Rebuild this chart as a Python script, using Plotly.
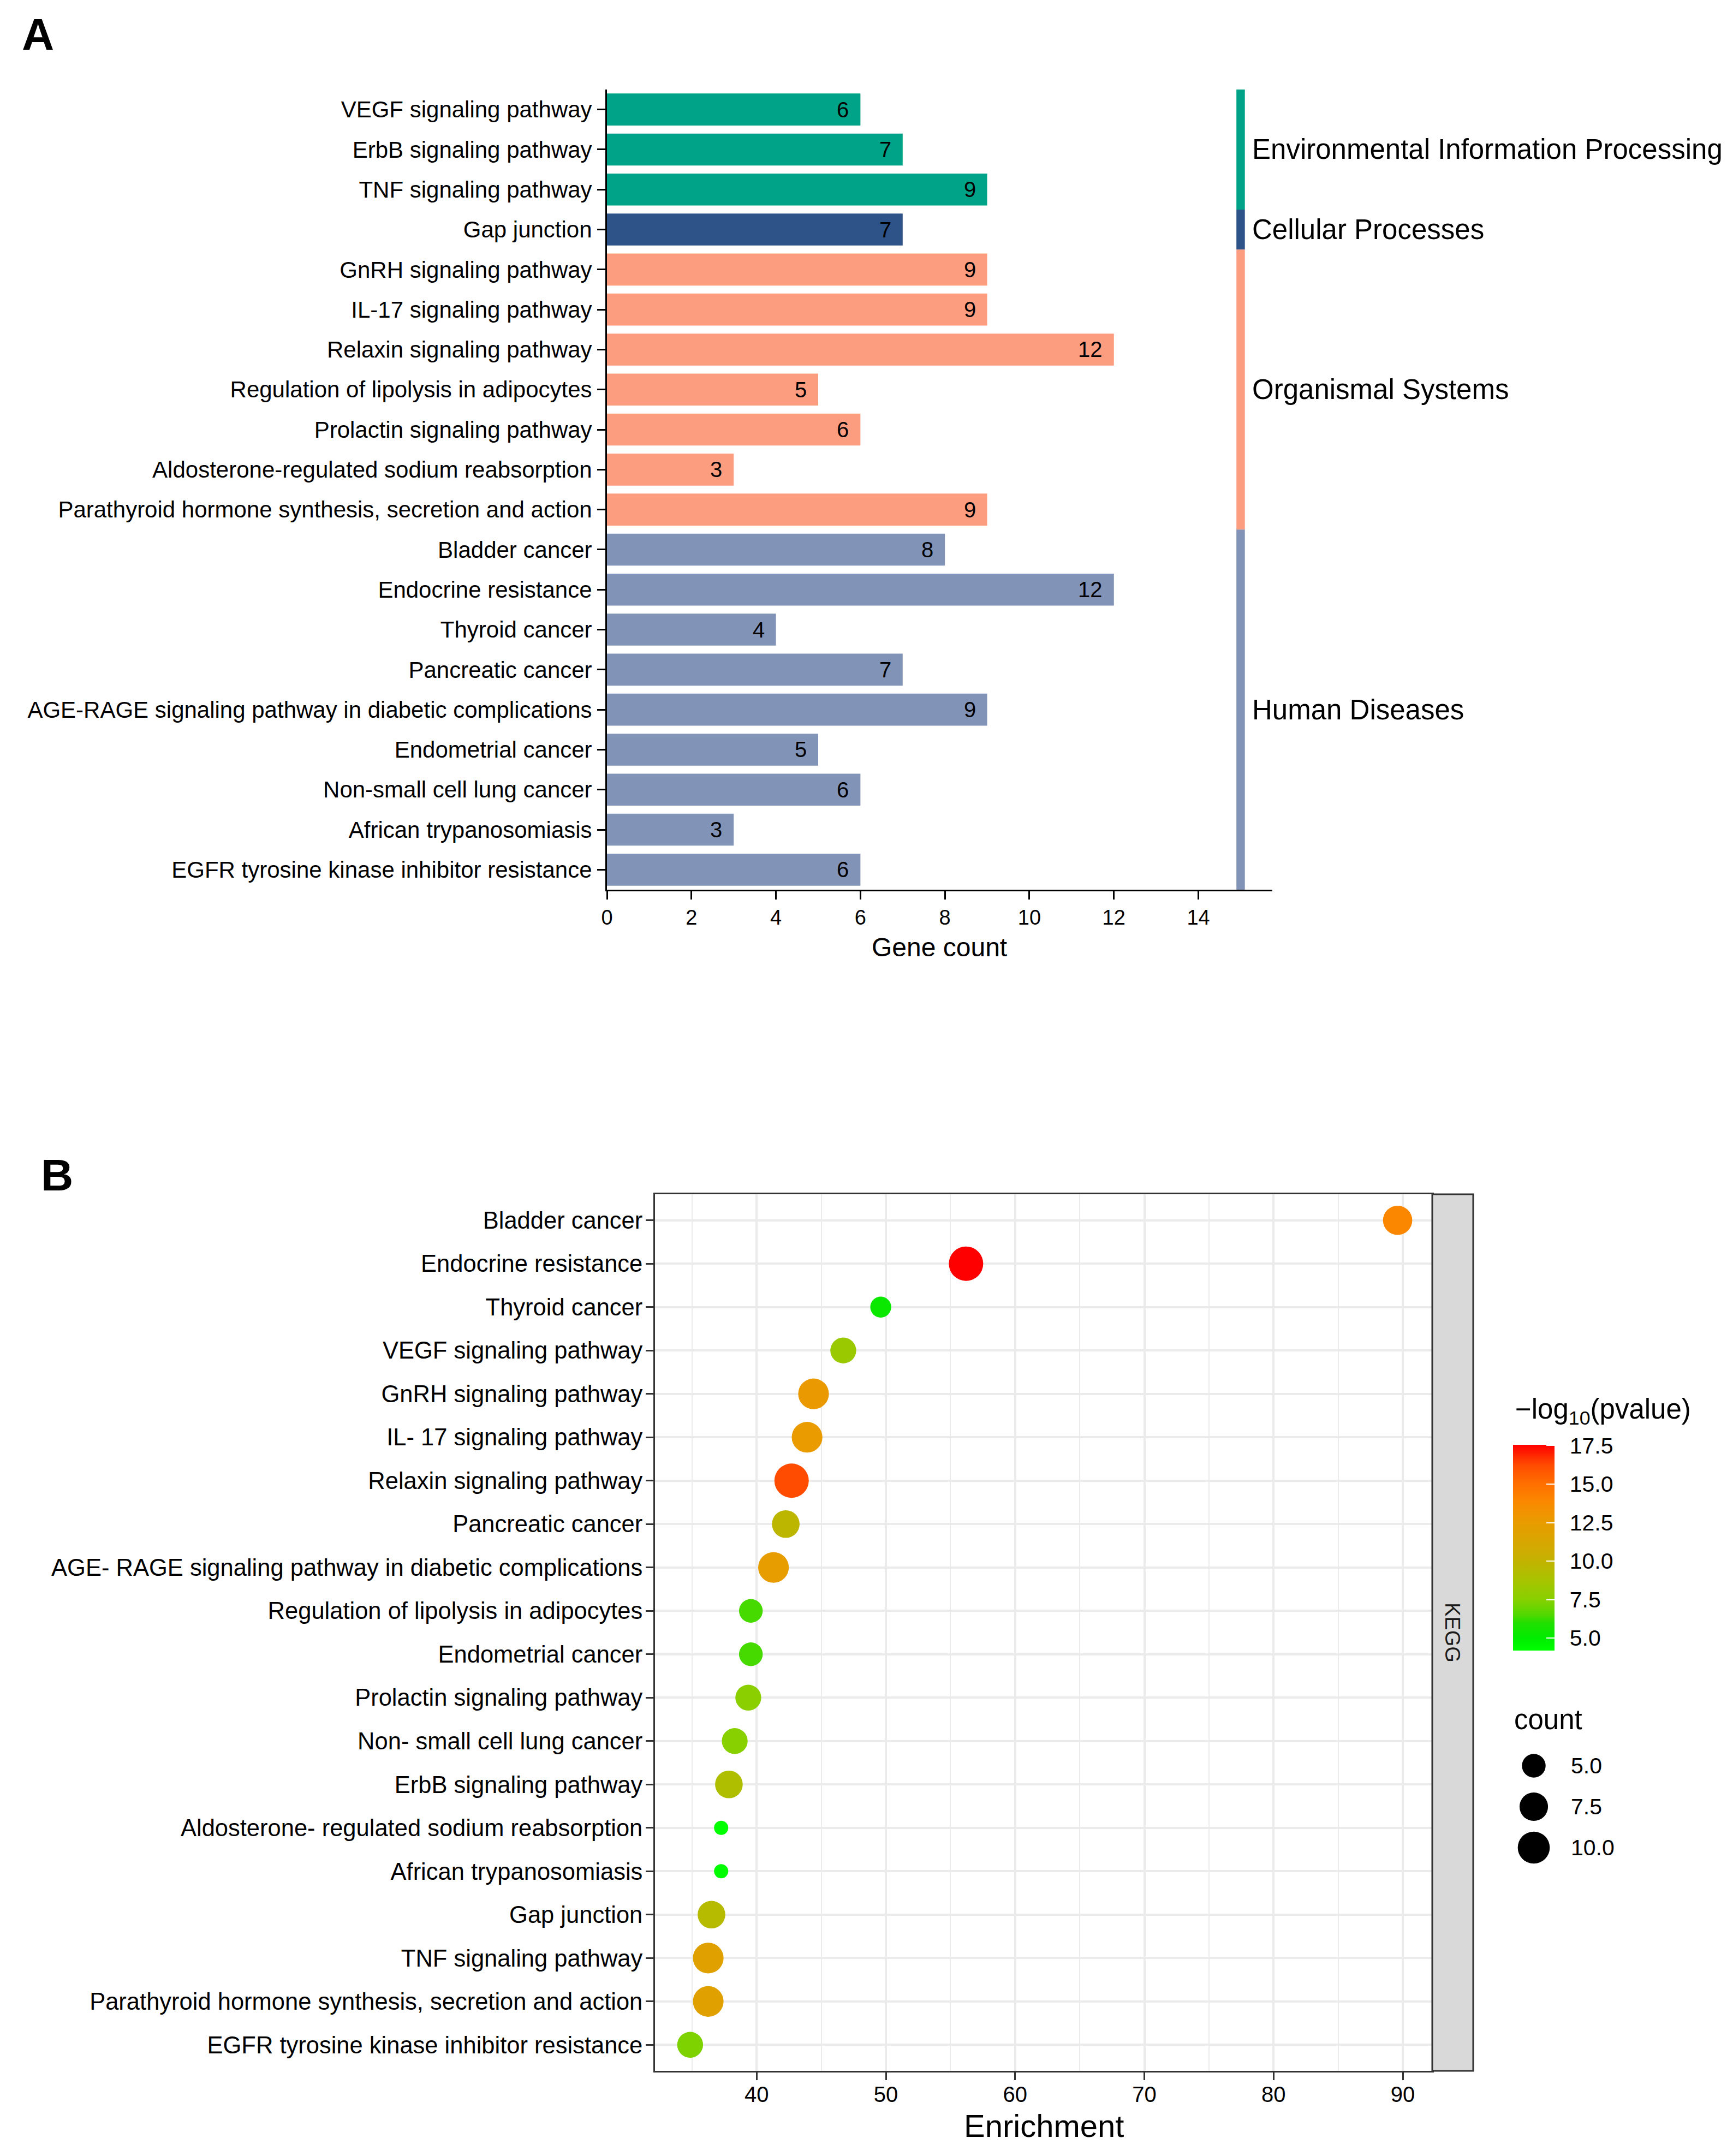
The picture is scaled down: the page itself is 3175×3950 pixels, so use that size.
import math
import plotly.graph_objects as go

W, H = 3175, 3950
FONT = "Liberation Sans"

# ---------------- Panel A data ----------------
pathways_a = [
    "VEGF signaling pathway", "ErbB signaling pathway", "TNF signaling pathway",
    "Gap junction", "GnRH signaling pathway", "IL-17 signaling pathway",
    "Relaxin signaling pathway", "Regulation of lipolysis in adipocytes",
    "Prolactin signaling pathway", "Aldosterone-regulated sodium reabsorption",
    "Parathyroid hormone synthesis, secretion and action", "Bladder cancer",
    "Endocrine resistance", "Thyroid cancer", "Pancreatic cancer",
    "AGE-RAGE signaling pathway in diabetic complications", "Endometrial cancer",
    "Non-small cell lung cancer", "African trypanosomiasis",
    "EGFR tyrosine kinase inhibitor resistance",
]
gene_counts_a = [6, 7, 9, 7, 9, 9, 12, 5, 6, 3, 9, 8, 12, 4, 7, 9, 5, 6, 3, 6]
classes_a = (["Environmental Information Processing"] * 3 + ["Cellular Processes"]
             + ["Organismal Systems"] * 7 + ["Human Diseases"] * 9)
class_order = ["Environmental Information Processing", "Cellular Processes",
               "Organismal Systems", "Human Diseases"]
class_colors = {
    "Environmental Information Processing": "#00A387",
    "Cellular Processes": "#2D5389",
    "Organismal Systems": "#FD9D80",
    "Human Diseases": "#8293B8",
}
x_ticks_a = [0, 2, 4, 6, 8, 10, 12, 14]
strip_x_a = 15

# ---------------- Panel B data ----------------
pathways_b = [
    "Bladder cancer", "Endocrine resistance", "Thyroid cancer",
    "VEGF signaling pathway", "GnRH signaling pathway", "IL- 17 signaling pathway",
    "Relaxin signaling pathway", "Pancreatic cancer",
    "AGE- RAGE signaling pathway in diabetic complications",
    "Regulation of lipolysis in adipocytes", "Endometrial cancer",
    "Prolactin signaling pathway", "Non- small cell lung cancer",
    "ErbB signaling pathway", "Aldosterone- regulated sodium reabsorption",
    "African trypanosomiasis", "Gap junction", "TNF signaling pathway",
    "Parathyroid hormone synthesis, secretion and action",
    "EGFR tyrosine kinase inhibitor resistance",
]
enrichment_b = [89.6, 56.2, 49.6, 46.7, 44.4, 43.9, 42.7, 42.25, 41.3, 39.55,
                39.55, 39.35, 38.3, 37.85, 37.25, 37.25, 36.5, 36.25, 36.25, 34.85]
counts_b = [8, 12, 4, 6, 9, 9, 12, 7, 9, 5, 5, 6, 6, 7, 3, 3, 7, 9, 9, 6]
neglog10p_b = [13.9, 17.55, 5.3, 8.2, 12.7, 12.6, 16.2, 9.7, 12.4, 6.4,
               6.4, 7.6, 7.5, 9.1, 4.19, 4.3, 9.4, 11.9, 11.9, 7.3]
x_ticks_b = [40, 50, 60, 70, 80, 90]
color_ticks = [5.0, 7.5, 10.0, 12.5, 15.0, 17.5]
size_breaks = [5.0, 7.5, 10.0]

# colour gradient (value -> colour), green to red
color_stops = [(4.19, "#00FF00"), (5.0, "#00EC00"), (6.0, "#22E000"),
               (6.5, "#50D800"), (7.5, "#88D000"), (8.75, "#A8C400"),
               (10.0, "#C2B200"), (11.25, "#D8A600"), (12.5, "#E89C00"),
               (13.75, "#FA8A00"), (15.0, "#FF7000"), (16.25, "#FF4A00"),
               (17.55, "#FF0000")]
SIZE_RANGE = (26, 63)  # marker diameter range in px


def px_x(p):
    return p / W


def px_y(p):
    return 1 - p / H


cmin, cmax = min(neglog10p_b), max(neglog10p_b)
colorscale = [[(v - cmin) / (cmax - cmin), c] for v, c in color_stops]
colorscale[0][0] = 0.0
colorscale[-1][0] = 1.0
clear_scale = [[0, "rgba(0,0,0,0)"], [1, "rgba(0,0,0,0)"]]

nmin, nmax = min(counts_b), max(counts_b)


def size_of(n):
    t = (n - nmin) / (nmax - nmin)
    return SIZE_RANGE[0] + (SIZE_RANGE[1] - SIZE_RANGE[0]) * math.sqrt(max(t, 0))


cbar_common = dict(
    x=px_x(2772), xanchor="left", xpad=0,
    y=px_y(2647), yanchor="top", ypad=0,
    len=377, lenmode="pixels", thickness=76, thicknessmode="pixels",
    outlinewidth=0, tickvals=color_ticks,
    ticktext=[f"{v:.1f}" for v in color_ticks],
    tickfont=dict(family=FONT, size=41, color="black"),
)

fig = go.Figure()

# ---------------- Panel A ----------------
fig.add_trace(go.Bar(
    x=gene_counts_a, y=pathways_a, orientation="h", width=0.8,
    marker=dict(color=[class_colors[c] for c in classes_a], line=dict(width=0)),
    xaxis="x", yaxis="y", showlegend=False, hoverinfo="x+y",
))

annotations = []
shapes = []
for name, n in zip(pathways_a, gene_counts_a):
    annotations.append(dict(
        x=n, y=name, xref="x", yref="y", text=str(n), showarrow=False,
        xanchor="right", yanchor="middle", xshift=-19,
        font=dict(family=FONT, size=40, color="black")))

for cls in class_order:
    idx = [i for i, c in enumerate(classes_a) if c == cls]
    lo, hi = min(idx), max(idx)
    shapes.append(dict(
        type="rect", xref="x", yref="y", x0=strip_x_a - 0.1, x1=strip_x_a + 0.1,
        y0=lo - 0.5, y1=hi + 0.5, fillcolor=class_colors[cls],
        line=dict(width=0), layer="above"))
    annotations.append(dict(
        x=strip_x_a + 0.1, y=(lo + hi) / 2, xref="x", yref="y", text=cls,
        showarrow=False, xanchor="left", yanchor="middle", xshift=11,
        font=dict(family=FONT, size=51, color="black")))

# ---------------- Panel B ----------------
fig.add_trace(go.Scatter(
    x=enrichment_b, y=pathways_b, mode="markers", xaxis="x2", yaxis="y2",
    showlegend=False,
    marker=dict(
        size=[size_of(n) for n in counts_b], color=neglog10p_b,
        colorscale=colorscale, cmin=cmin, cmax=cmax, opacity=1,
        line=dict(width=0), showscale=True,
        colorbar=dict(**cbar_common, ticks="inside", ticklen=15,
                      tickcolor="white", tickwidth=2, showticklabels=False),
    ),
))

# tick labels of the colour bar (transparent bar, labels pushed out)
fig.add_trace(go.Scatter(
    x=[0, 0], y=[0, 0], mode="markers", xaxis="x3", yaxis="y3",
    showlegend=False, hoverinfo="skip",
    marker=dict(color=[cmin, cmax], colorscale=clear_scale, cmin=cmin,
                cmax=cmax, opacity=0, showscale=True,
                colorbar=dict(**cbar_common, ticks="outside", ticklen=20,
                              tickcolor="rgba(0,0,0,0)")),
))

# size legend (keys drawn through their own hidden axes)
fig.add_trace(go.Scatter(
    x=[0] * len(size_breaks), y=list(range(len(size_breaks))), mode="markers",
    xaxis="x3", yaxis="y3", showlegend=False, hoverinfo="skip",
    marker=dict(size=[size_of(b) for b in size_breaks], color="black",
                opacity=1, line=dict(width=0)),
))
for i, b in enumerate(size_breaks):
    annotations.append(dict(
        x=66, y=i, xref="x3", yref="y3", text=f"{b:.1f}", showarrow=False,
        xanchor="left", yanchor="middle",
        font=dict(family=FONT, size=41, color="black")))

# KEGG strip
shapes.append(dict(
    type="rect", xref="paper", yref="paper", x0=px_x(2624), x1=px_x(2699),
    y0=px_y(3794), y1=px_y(2188), fillcolor="#D9D9D9",
    line=dict(color="#333333", width=3), layer="above"))
annotations.append(dict(
    x=px_x(2661), y=px_y(2991), xref="paper", yref="paper", text="KEGG",
    textangle=90, showarrow=False, xanchor="center", yanchor="middle",
    font=dict(family=FONT, size=38, color="#1A1A1A")))

# titles and labels
annotations += [
    dict(x=px_x(69), y=px_y(62), xref="paper", yref="paper", text="<b>A</b>",
         showarrow=False, xanchor="center", yanchor="middle",
         font=dict(family=FONT, size=82, color="black")),
    dict(x=px_x(104), y=px_y(2152), xref="paper", yref="paper", text="<b>B</b>",
         showarrow=False, xanchor="center", yanchor="middle",
         font=dict(family=FONT, size=82, color="black")),
    dict(x=px_x(1721), y=px_y(1735), xref="paper", yref="paper", text="Gene count",
         showarrow=False, xanchor="center", yanchor="middle",
         font=dict(family=FONT, size=48, color="black")),
    dict(x=px_x(1912), y=px_y(3894), xref="paper", yref="paper", text="Enrichment",
         showarrow=False, xanchor="center", yanchor="middle",
         font=dict(family=FONT, size=58, color="black")),
    dict(x=px_x(2774), y=px_y(2585), xref="paper", yref="paper",
         text="\u2212log<sub>10</sub>(pvalue)", showarrow=False,
         xanchor="left", yanchor="middle",
         font=dict(family=FONT, size=51, color="black")),
    dict(x=px_x(2772), y=px_y(3150), xref="paper", yref="paper", text="count",
         showarrow=False, xanchor="left", yanchor="middle",
         font=dict(family=FONT, size=51, color="black")),
]

axis_font_a = dict(family=FONT, size=38, color="black")
fig.update_layout(
    width=W, height=H, margin=dict(l=0, r=0, t=0, b=0),
    paper_bgcolor="white", plot_bgcolor="white",
    font=dict(family=FONT, color="black"),
    showlegend=False,
    xaxis=dict(
        domain=[px_x(1112), px_x(2331)], range=[0, 15.75], anchor="y",
        tickvals=x_ticks_a, ticks="outside", ticklen=15, tickwidth=3,
        tickcolor="black", showline=True, linecolor="black", linewidth=3,
        showgrid=False, zeroline=False, tickfont=axis_font_a,
        ticklabelstandoff=0, automargin=False, fixedrange=True,
    ),
    yaxis=dict(
        domain=[px_y(1630), px_y(164)], type="category",
        categoryorder="array", categoryarray=pathways_a,
        range=[len(pathways_a) - 0.5, -0.5], anchor="x",
        ticks="outside", ticklen=15, tickwidth=3, tickcolor="black",
        showline=True, linecolor="black", linewidth=3, showgrid=False,
        zeroline=False, tickfont=dict(family=FONT, size=42, color="black"),
        ticklabelstandoff=1, automargin=False, fixedrange=True,
    ),
    xaxis2=dict(
        domain=[px_x(1200), px_x(2624)], range=[32.13, 92.28], anchor="y2",
        tickvals=x_ticks_b, ticks="outside", ticklen=14, tickwidth=3,
        tickcolor="#333333", showline=True, mirror=True, linecolor="#333333",
        linewidth=3, showgrid=True, gridcolor="#EBEBEB", gridwidth=4,
        minor=dict(dtick=5, tick0=0, showgrid=True, gridcolor="#EBEBEB",
                   gridwidth=2, ticks=""),
        zeroline=False, tickfont=dict(family=FONT, size=40, color="black"),
        ticklabelstandoff=-8, automargin=False, fixedrange=True,
    ),
    yaxis2=dict(
        domain=[px_y(3794), px_y(2188)], type="category",
        categoryorder="array", categoryarray=pathways_b,
        range=[len(pathways_b) - 0.4, -0.6], anchor="x2",
        ticks="outside", ticklen=14, tickwidth=3, tickcolor="#333333",
        showline=True, mirror=True, linecolor="#333333", linewidth=3,
        showgrid=True, gridcolor="#EBEBEB", gridwidth=4, zeroline=False,
        tickfont=dict(family=FONT, size=43.5, color="black"),
        ticklabelstandoff=-3, automargin=False, fixedrange=True,
    ),
    xaxis3=dict(domain=[px_x(2780), px_x(3100)], range=[-30, 290],
                anchor="y3", visible=False, fixedrange=True),
    yaxis3=dict(domain=[px_y(3422.5), px_y(3197.5)],
                range=[len(size_breaks) - 0.5, -0.5], anchor="x3",
                visible=False, fixedrange=True),
    annotations=annotations,
    shapes=shapes,
)

fig.write_html("out.html",
               config={"displayModeBar": False},
               post_script="document.body.style.margin='0px';"
                           "document.body.style.padding='0px';")
